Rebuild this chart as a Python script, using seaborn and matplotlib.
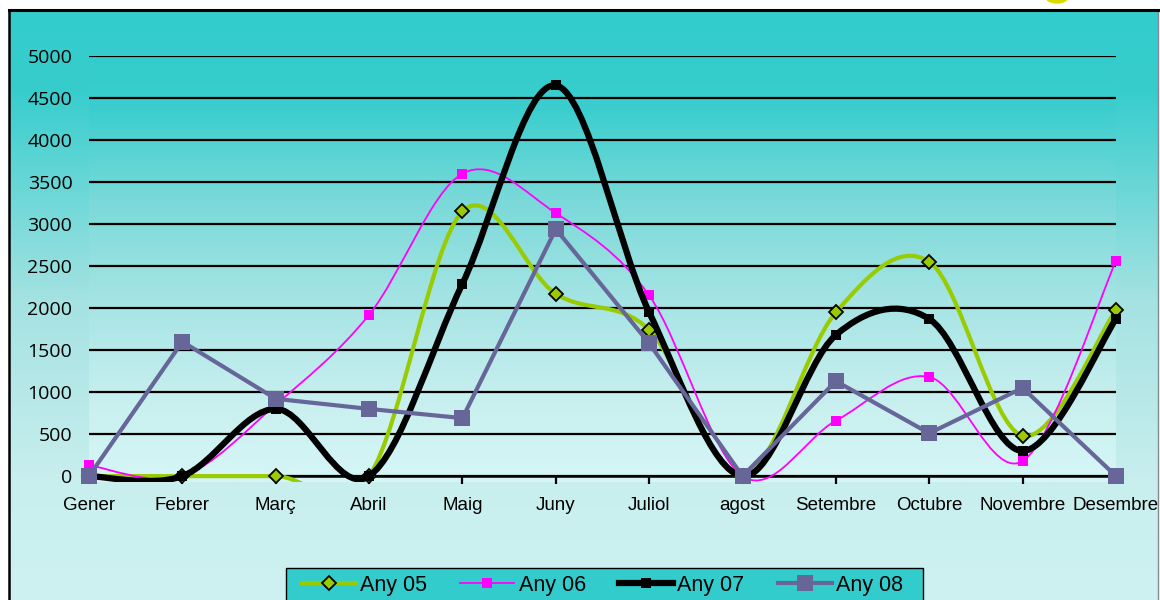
import numpy as np
import pandas as pd
import seaborn as sns
import matplotlib.pyplot as plt
from matplotlib.path import Path
from matplotlib.patches import PathPatch, Ellipse, Rectangle
from matplotlib.lines import Line2D

# ==========================================
# DATA
# ==========================================
months = ['Gener', 'Febrer', 'Març', 'Abril', 'Maig', 'Juny', 'Juliol',
          'agost', 'Setembre', 'Octubre', 'Novembre', 'Desembre']
any05 = [0, 0, 0, 0, 3150, 2170, 1740, 0, 1950, 2550, 480, 1980]
any06 = [130, 0, 850, 1920, 3600, 3130, 2150, 0, 660, 1180, 180, 2560]
any07 = [0, 0, 800, 0, 2290, 4650, 1950, 0, 1680, 1870, 300, 1870]
any08 = [0, 1600, 920, 800, 690, 2940, 1580, 0, 1130, 510, 1050, 0]
yticks = list(range(0, 5001, 500))

df = pd.DataFrame({'x': range(len(months)), 'Any 05': any05, 'Any 06': any06,
                   'Any 07': any07, 'Any 08': any08})

W, H = 1160, 600


def smooth_path(xs, ys):
    # Excel-style smoothed line: cubic bezier segments through the data points
    pts = np.column_stack([xs, ys]).astype(float)
    ext = np.vstack([pts[0], pts, pts[-1]])
    verts, codes = [pts[0]], [Path.MOVETO]
    for i in range(len(pts) - 1):
        p0, p1, p2, p3 = ext[i], ext[i + 1], ext[i + 2], ext[i + 3]
        verts += [p1 + (p2 - p0) / 6, p2 - (p3 - p1) / 6, p2]
        codes += [Path.CURVE4] * 3
    return Path(verts, codes)


def gradient(stops_y, stops_rgb, y0, y1, n=300):
    ys = np.linspace(y0, y1, n)
    cols = [np.interp(ys, stops_y, [c[k] for c in stops_rgb]) for k in range(3)]
    return (np.stack(cols, axis=-1) / 255.0)[:, None, :]


fig = plt.figure(figsize=(W / 100, H / 100), dpi=100)
fig.patch.set_facecolor('white')

# chart area background with border
bg = fig.add_axes([9 / W, 0, 1149 / W, 590 / H], zorder=-10)
bg_img = gradient([10, 90, 300, 480, 600],
                  [(51, 204, 204), (55, 205, 205), (165, 226, 226), (200, 238, 238), (206, 242, 242)],
                  10, 600)
bg.imshow(bg_img, aspect='auto', extent=[0, 1, 0, 1])
bg.set_xlim(0, 1)
bg.set_ylim(0, 1)
bg.set_xticks([])
bg.set_yticks([])
bg.spines['bottom'].set_visible(False)
bg.spines['top'].set_linewidth(2.2)
bg.spines['left'].set_linewidth(1.8)
bg.spines['right'].set_color('#888888')
bg.spines['right'].set_linewidth(1)

# plot area
ax = fig.add_axes([89 / W, 118 / H, 1027 / W, 426 / H])
ax.set_facecolor('none')
pa_img = gradient([56, 110, 200, 300, 400, 482],
                  [(51, 204, 204), (60, 206, 206), (122, 217, 217), (165, 228, 228),
                   (200, 239, 239), (214, 246, 246)],
                  56, 482)
ax.imshow(pa_img, aspect='auto', extent=[0, 1, 0, 1], transform=ax.transAxes, zorder=0)

styles = {
    'Any 05': dict(color='#99CC00', lw=3, marker='D', ms=7, mfc='#99CC00', mec='black', mew=1.3),
    'Any 06': dict(color='#FF00FF', lw=1.3, marker='s', ms=7, mfc='#FF00FF', mec='#FF00FF', mew=0),
    'Any 07': dict(color='black', lw=4.5, marker='s', ms=7.5, mfc='black', mec='black', mew=0),
    'Any 08': dict(color='#666699', lw=3, marker='s', ms=11, mfc='#666699', mec='#666699', mew=0),
}

for i, name in enumerate(['Any 05', 'Any 06', 'Any 07']):
    st = styles[name]
    patch = PathPatch(smooth_path(df['x'], df[name]), facecolor='none', edgecolor=st['color'],
                      lw=st['lw'], capstyle='round', joinstyle='round', zorder=3 + i)
    ax.add_patch(patch)
    sns.lineplot(data=df, x='x', y=name, ax=ax, linestyle='', marker=st['marker'],
                 markersize=st['ms'], markerfacecolor=st['mfc'], markeredgecolor=st['mec'],
                 markeredgewidth=st['mew'], legend=False, clip_on=False, zorder=3.5 + i)

st = styles['Any 08']
sns.lineplot(data=df, x='x', y='Any 08', ax=ax, color=st['color'], lw=st['lw'],
             marker='s', markersize=st['ms'], markerfacecolor=st['mfc'],
             markeredgecolor=st['mec'], markeredgewidth=0, legend=False,
             clip_on=False, zorder=7)

ax.set_xlim(0, 11)
ax.set_ylim(-70, 5000)
ax.set_xlabel('')
ax.set_ylabel('')

# spine position first: moving it resets the tick objects
for s in ['top', 'right', 'left']:
    ax.spines[s].set_visible(False)
ax.spines['bottom'].set_position(('data', 0))
ax.spines['bottom'].set_linewidth(1.8)
ax.spines['bottom'].set_zorder(1.5)

ax.set_xticks(range(len(months)), months)
ax.set_yticks(yticks, [str(v) for v in yticks])
ax.tick_params(axis='x', length=6, width=1.6, color='black', pad=9, direction='out')
ax.tick_params(axis='y', length=0, pad=12)
for lab in ax.get_xticklabels():
    lab.set_fontfamily('Liberation Sans')
    lab.set_fontsize(13.5)
for lab in ax.get_yticklabels():
    lab.set_fontfamily('Open Sans')
    lab.set_fontsize(14)
ax.yaxis.grid(True, color='black', lw=1.6, zorder=1)
ax.set_axisbelow(True)

# legend: frame drawn as its own box (runs off the bottom edge)
fig.patches.append(Rectangle((286 / W, -0.05), (923 - 286) / W, (H - 568) / H + 0.05,
                             transform=fig.transFigure, facecolor='#33CCCC',
                             edgecolor='black', lw=1, zorder=2))
handles = [Line2D([], [], color=styles[n]['color'], lw=styles[n]['lw'], marker=styles[n]['marker'],
                  ms=styles[n]['ms'], mfc=styles[n]['mfc'], mec=styles[n]['mec'],
                  mew=styles[n]['mew']) for n in styles]
leg = fig.legend(handles, list(styles), loc='center left', bbox_to_anchor=(302 / W, 1 - 585 / H),
                 ncol=4, frameon=False, prop={'family': 'Liberation Sans', 'size': 15.5},
                 handlelength=2.5, handletextpad=0.2, columnspacing=1.55, borderpad=0,
                 borderaxespad=0)
leg.set_zorder(3)

# bit of a yellow shape cut off at the top edge
fig.patches.append(Ellipse((1057 / W, 1 + 3 / H), 22 / W, 12 / H,
                           transform=fig.transFigure, color='#D8DC00', zorder=5))

fig.savefig('out.png', dpi=100)
